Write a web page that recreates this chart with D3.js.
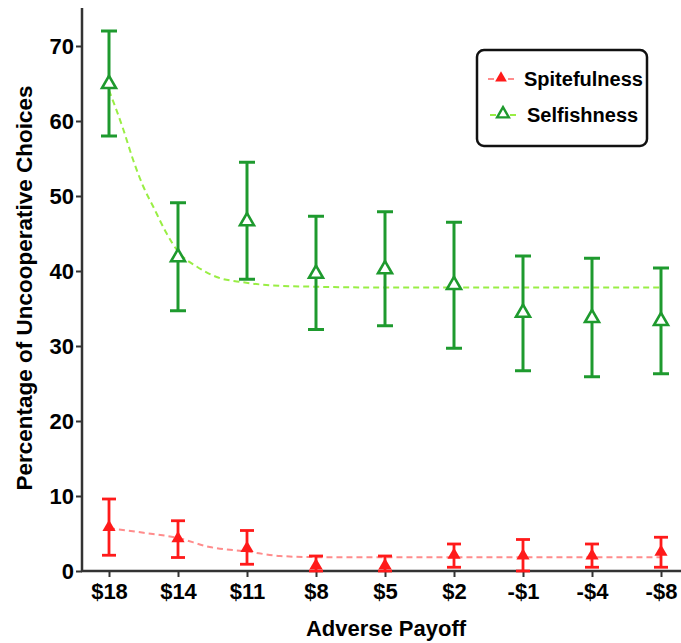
<!DOCTYPE html>
<html>
<head>
<meta charset="utf-8">
<script src="https://cdn.jsdelivr.net/npm/d3@7"></script>
<style>
  body { margin: 0; background: #fff; }
  text { font-family: "Liberation Sans", Arial, sans-serif; font-weight: bold; }
</style>
</head>
<body>
<div id="chart"></div>
<script>
// categories on x
var payoffs = ["$18", "$14", "$11", "$8", "$5", "$2", "-$1", "-$4", "-$8"];
var yTicks = [0, 10, 20, 30, 40, 50, 60, 70];

// selfishness (green, open triangles)
var selfMean = [64.8, 41.7, 46.5, 39.5, 40.1, 38.0, 34.3, 33.6, 33.2];
var selfLow  = [58.0, 34.7, 38.9, 32.2, 32.7, 29.7, 26.7, 25.9, 26.3];
var selfHigh = [72.0, 49.1, 54.5, 47.3, 47.9, 46.5, 42.0, 41.7, 40.4];

// spitefulness (red, filled triangles)
var spiteMean = [5.7, 4.2, 2.9, 0.6, 0.6, 2.0, 1.9, 1.9, 2.4];
var spiteLow  = [2.1, 1.8, 0.9, 0.0, 0.0, 0.5, 0.0, 0.5, 0.5];
var spiteHigh = [9.6, 6.7, 5.4, 2.0, 2.0, 3.6, 4.2, 3.6, 4.5];

// fitted curves (x given as category position)
var selfFitX = [0, 0.21, 0.35, 0.5, 0.64, 0.83, 1, 1.27, 1.56, 1.94, 2.33, 3, 4, 5, 6, 7, 8];
var selfFitY = [64.1, 58.8, 54.8, 51.2, 48.6, 45.1, 42.6, 40.6, 39.2, 38.5, 38.1, 37.9, 37.8, 37.8, 37.8, 37.8, 37.8];
var spiteFitX = [0, 0.5, 1, 1.46, 2, 2.48, 3, 4, 5, 6, 7, 8];
var spiteFitY = [5.7, 5.1, 4.4, 3.2, 2.6, 2.0, 1.85, 1.85, 1.85, 1.85, 1.85, 1.85];

var width = 681, height = 643;
var svg = d3.select('#chart').append('svg').attr('width', width).attr('height', height);

var x = d3.scaleLinear().domain([0, 8]).range([109, 661]);
var y = d3.scaleLinear().domain([0, 75]).range([571, 8.5]);

// axes
var yAxis = svg.append('g').attr('transform', 'translate(82,0)')
    .call(d3.axisLeft(y).tickValues(yTicks).tickSize(6).tickSizeOuter(0).tickPadding(2));
var xAxis = svg.append('g').attr('transform', 'translate(0,571)')
    .call(d3.axisBottom(x).tickValues(d3.range(payoffs.length)).tickFormat(function (d) { return payoffs[d]; })
          .tickSize(6).tickSizeOuter(0).tickPadding(6));
yAxis.select('.domain').remove();
xAxis.select('.domain').remove();
svg.append('line').attr('x1', 82).attr('x2', 82).attr('y1', 8).attr('y2', 572)
    .attr('stroke', '#333').attr('stroke-width', 2.5);
svg.append('line').attr('x1', 81).attr('x2', 681).attr('y1', 571).attr('y2', 571)
    .attr('stroke', '#333').attr('stroke-width', 2.5);
svg.selectAll('.tick line').attr('stroke', '#333').attr('stroke-width', 2);
svg.selectAll('.tick text').attr('fill', '#000').style('font-size', '22px')
    .style('font-family', '"Liberation Sans", Arial, sans-serif').style('font-weight', 'bold');

// axis titles
svg.append('text').attr('x', 386).attr('y', 636).attr('text-anchor', 'middle')
    .style('font-size', '22px').text('Adverse Payoff');
svg.append('text').attr('transform', 'translate(32,288) rotate(-90)').attr('text-anchor', 'middle')
    .style('font-size', '22.5px').text('Percentage of Uncooperative Choices');

// fit lines
var line = d3.line().curve(d3.curveMonotoneX);
svg.append('path').attr('d', line(selfFitX.map(function (d, i) { return [x(d), y(selfFitY[i])]; })))
    .attr('fill', 'none').attr('stroke', '#99ee44').attr('stroke-width', 2).attr('stroke-dasharray', '6,4');
svg.append('path').attr('d', line(spiteFitX.map(function (d, i) { return [x(d), y(spiteFitY[i])]; })))
    .attr('fill', 'none').attr('stroke', '#ff8c8c').attr('stroke-width', 2).attr('stroke-dasharray', '6,4');

var tri = d3.symbol().type(d3.symbolTriangle);

function errorBars(lo, hi, color, cap, sw) {
    var g = svg.append('g').attr('stroke', color).attr('stroke-width', sw);
    payoffs.forEach(function (p, i) {
        var cx = x(i);
        g.append('line').attr('x1', cx).attr('x2', cx).attr('y1', y(lo[i])).attr('y2', y(hi[i]));
        g.append('line').attr('x1', cx - cap).attr('x2', cx + cap).attr('y1', y(hi[i])).attr('y2', y(hi[i]));
        g.append('line').attr('x1', cx - cap).attr('x2', cx + cap).attr('y1', y(lo[i])).attr('y2', y(lo[i]));
    });
}

// spitefulness
errorBars(spiteLow, spiteHigh, '#ff1a1a', 7, 2.8);
svg.selectAll('.spite').data(spiteMean).enter().append('path')
    .attr('d', tri.size(75))
    .attr('transform', function (d, i) { return 'translate(' + x(i) + ',' + (y(d) - 1) + ')'; })
    .attr('fill', '#ff1a1a');

// selfishness
errorBars(selfLow, selfHigh, '#1e9a2e', 8, 3);
svg.selectAll('.self').data(selfMean).enter().append('path')
    .attr('d', tri.size(85))
    .attr('transform', function (d, i) { return 'translate(' + x(i) + ',' + (y(d) - 1) + ')'; })
    .attr('fill', '#fff').attr('stroke', '#1e9a2e').attr('stroke-width', 2.6);

// legend
var lg = svg.append('g');
lg.append('rect').attr('x', 477).attr('y', 50).attr('width', 170).attr('height', 96).attr('rx', 7)
    .attr('fill', '#fff').attr('stroke', '#111').attr('stroke-width', 2.5);
lg.append('line').attr('x1', 488).attr('x2', 514).attr('y1', 79).attr('y2', 79)
    .attr('stroke', '#ff8c8c').attr('stroke-width', 2).attr('stroke-dasharray', '6,4');
lg.append('path').attr('d', tri.size(60)).attr('transform', 'translate(501,78)').attr('fill', '#ff1a1a');
lg.append('text').attr('x', 524).attr('y', 86).style('font-size', '20px').text('Spitefulness');
lg.append('line').attr('x1', 490).attr('x2', 516).attr('y1', 115).attr('y2', 115)
    .attr('stroke', '#99ee44').attr('stroke-width', 2).attr('stroke-dasharray', '6,4');
lg.append('path').attr('d', tri.size(60)).attr('transform', 'translate(503,114)')
    .attr('fill', '#fff').attr('stroke', '#1e9a2e').attr('stroke-width', 2.4);
lg.append('text').attr('x', 527).attr('y', 122).style('font-size', '20px').text('Selfishness');
</script>
</body>
</html>
